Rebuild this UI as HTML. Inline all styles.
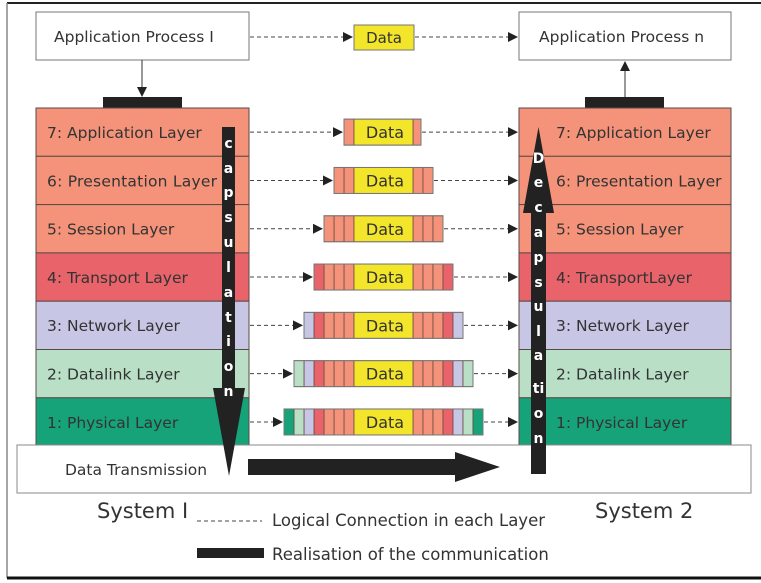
<!DOCTYPE html>
<html><head><meta charset="utf-8"><style>
html,body{margin:0;padding:0;background:#fff}
svg{display:block}
text{font-family:"DejaVu Sans","Liberation Sans",sans-serif;fill:#333}
</style></head><body>
<svg id="s" width="761" height="583" viewBox="0 0 761 583" xmlns="http://www.w3.org/2000/svg">
<defs>
<marker id="ah" markerWidth="10" markerHeight="10" refX="9" refY="5" orient="auto" markerUnits="userSpaceOnUse"><path d="M0,0 L10,5 L0,10 z" fill="#222"/></marker>
</defs>
<rect x="0" y="0" width="761" height="583" fill="#fff"/>
<line x1="7" y1="3" x2="761" y2="3" stroke="#222" stroke-width="2"/>
<line x1="7" y1="3" x2="7" y2="578" stroke="#888" stroke-width="1.5"/>
<line x1="7" y1="578" x2="761" y2="578" stroke="#111" stroke-width="3"/>

<rect x="36" y="12" width="213" height="48" fill="#fff" stroke="#777"/>
<text x="54" y="42" font-size="15.5">Application Process I</text>
<rect x="519" y="12" width="212" height="48" fill="#fff" stroke="#777"/>
<text x="539" y="42" font-size="15.5">Application Process n</text>
<line x1="250" y1="37" x2="352" y2="37" stroke="#444" stroke-dasharray="4,3" marker-end="url(#ah)"/>
<rect x="354" y="25" width="60" height="25" fill="#f2e52a" stroke="#777"/>
<text x="384" y="43" font-size="15" text-anchor="middle">Data</text>
<line x1="415" y1="37" x2="517" y2="37" stroke="#444" stroke-dasharray="4,3" marker-end="url(#ah)"/>
<line x1="142" y1="60" x2="142" y2="96" stroke="#333" marker-end="url(#ah)"/>
<rect x="103" y="97" width="79" height="11" fill="#222"/>
<line x1="625" y1="97" x2="625" y2="62" stroke="#333" marker-end="url(#ah)"/>
<rect x="585" y="97" width="79" height="11" fill="#222"/>

<g id="layers"></g>
<g id="pk"></g>

<rect x="17" y="445" width="734" height="48" fill="#fff" stroke="#888"/>
<text x="65" y="475" font-size="15.5">Data Transmission</text>
<path d="M248,459 L455,459 L455,452 L500,467 L455,482 L455,475 L248,475 z" fill="#222"/>

<path d="M222,127 L235,127 L235,388 L245,388 L229,476 L213,388 L222,388 z" fill="#222"/>
<g font-size="14" style="font-weight:bold">
<text x="228.5" y="148" text-anchor="middle" style="fill:#fff">c</text>
<text x="228.5" y="173" text-anchor="middle" style="fill:#fff">a</text>
<text x="228.5" y="197" text-anchor="middle" style="fill:#fff">p</text>
<text x="228.5" y="222" text-anchor="middle" style="fill:#fff">s</text>
<text x="228.5" y="247" text-anchor="middle" style="fill:#fff">u</text>
<text x="228.5" y="272" text-anchor="middle" style="fill:#fff">l</text>
<text x="228.5" y="297" text-anchor="middle" style="fill:#fff">a</text>
<text x="228.5" y="322" text-anchor="middle" style="fill:#fff">t</text>
<text x="228.5" y="346" text-anchor="middle" style="fill:#fff">i</text>
<text x="228.5" y="371" text-anchor="middle" style="fill:#fff">o</text>
<text x="228.5" y="396" text-anchor="middle" style="fill:#fff">n</text>
</g>
<path d="M531,474 L546,474 L546,213 L554,213 L538.5,127 L523,213 L531,213 z" fill="#222"/>
<g font-size="14" style="font-weight:bold">
<text x="538.5" y="163" text-anchor="middle" style="fill:#fff">D</text>
<text x="538.5" y="187" text-anchor="middle" style="fill:#fff">e</text>
<text x="538.5" y="212" text-anchor="middle" style="fill:#fff">c</text>
<text x="538.5" y="237" text-anchor="middle" style="fill:#fff">a</text>
<text x="538.5" y="262" text-anchor="middle" style="fill:#fff">p</text>
<text x="538.5" y="287" text-anchor="middle" style="fill:#fff">s</text>
<text x="538.5" y="311" text-anchor="middle" style="fill:#fff">u</text>
<text x="538.5" y="336" text-anchor="middle" style="fill:#fff">l</text>
<text x="538.5" y="360" text-anchor="middle" style="fill:#fff">a</text>
<text x="538.5" y="393" text-anchor="middle" style="fill:#fff">ti</text>
<text x="538.5" y="418" text-anchor="middle" style="fill:#fff">o</text>
<text x="538.5" y="443" text-anchor="middle" style="fill:#fff">n</text>
</g>

<text x="97" y="518" font-size="21">System I</text>
<text x="595" y="518" font-size="21">System 2</text>
<line x1="197" y1="521" x2="262" y2="521" stroke="#444" stroke-dasharray="4,3"/>
<text x="272" y="526" font-size="16.5">Logical Connection  in each Layer</text>
<rect x="197" y="548" width="67" height="10" fill="#222"/>
<text x="272" y="560" font-size="16.5">Realisation of the communication</text>
</svg>
<script>
var NS="http://www.w3.org/2000/svg";
function el(p,t,a,txt){var e=document.createElementNS(NS,t);for(var k in a)e.setAttribute(k,a[k]);if(txt)e.textContent=txt;p.appendChild(e);return e;}
var L=document.getElementById('layers'),P=document.getElementById('pk');
var cols=["#f4937a","#f4937a","#f4937a","#e8636a","#c7c6e5","#b9e0c6","#17a37a"];
var namesL=["7: Application Layer","6: Presentation Layer","5: Session Layer","4: Transport Layer","3: Network Layer","2: Datalink Layer","1: Physical Layer"];
var namesR=["7: Application Layer","6: Presentation Layer","5: Session Layer","4: TransportLayer","3: Network Layer","2: Datalink Layer","1: Physical Layer"];
for(var i=0;i<7;i++){
 var y=108+i*48.3,h=48.3;
 el(L,'rect',{x:36,y:y,width:213,height:h,fill:cols[i],stroke:"#5a4a44","stroke-width":1});
 el(L,'rect',{x:519,y:y,width:212,height:h,fill:cols[i],stroke:"#5a4a44","stroke-width":1});
 el(L,'text',{x:47,y:y+30,"font-size":15.5,textLength:(i==1?170:null)},namesL[i]);
 el(L,'text',{x:556,y:y+30,"font-size":15.5},namesR[i]);
 var cy=y+h/2,k=i+1;
 var left=354-10*k,right=413+10*k-(i==0?2:0);
 el(P,'line',{x1:250,y1:cy,x2:left-2,y2:cy,stroke:"#444","stroke-dasharray":"4,3","marker-end":"url(#ah)"});
 el(P,'line',{x1:right+1,y1:cy,x2:517,y2:cy,stroke:"#444","stroke-dasharray":"4,3","marker-end":"url(#ah)"});
 for(var j=0;j<k;j++){
  var c=cols[j];
  el(P,'rect',{x:354-10*(j+1),y:cy-13,width:10,height:26,fill:c,stroke:"#6a4a40","stroke-width":0.8});
  el(P,'rect',{x:413+10*j,y:cy-13,width:(i==0?8:10),height:26,fill:c,stroke:"#6a4a40","stroke-width":0.8});
 }
 el(P,'rect',{x:354,y:cy-13,width:59,height:26,fill:"#f2e52a",stroke:"#6a4a40","stroke-width":0.8});
 el(P,'text',{x:385,y:cy+6,"font-size":16,"text-anchor":"middle"},"Data");
 el(P,'rect',{x:left,y:cy-13,width:right-left,height:26,fill:"none",stroke:"#777"});
}
// remove null textLength
Array.prototype.forEach.call(document.querySelectorAll('text[textLength="null"]'),function(t){t.removeAttribute('textLength');});
</script>
</body></html>
